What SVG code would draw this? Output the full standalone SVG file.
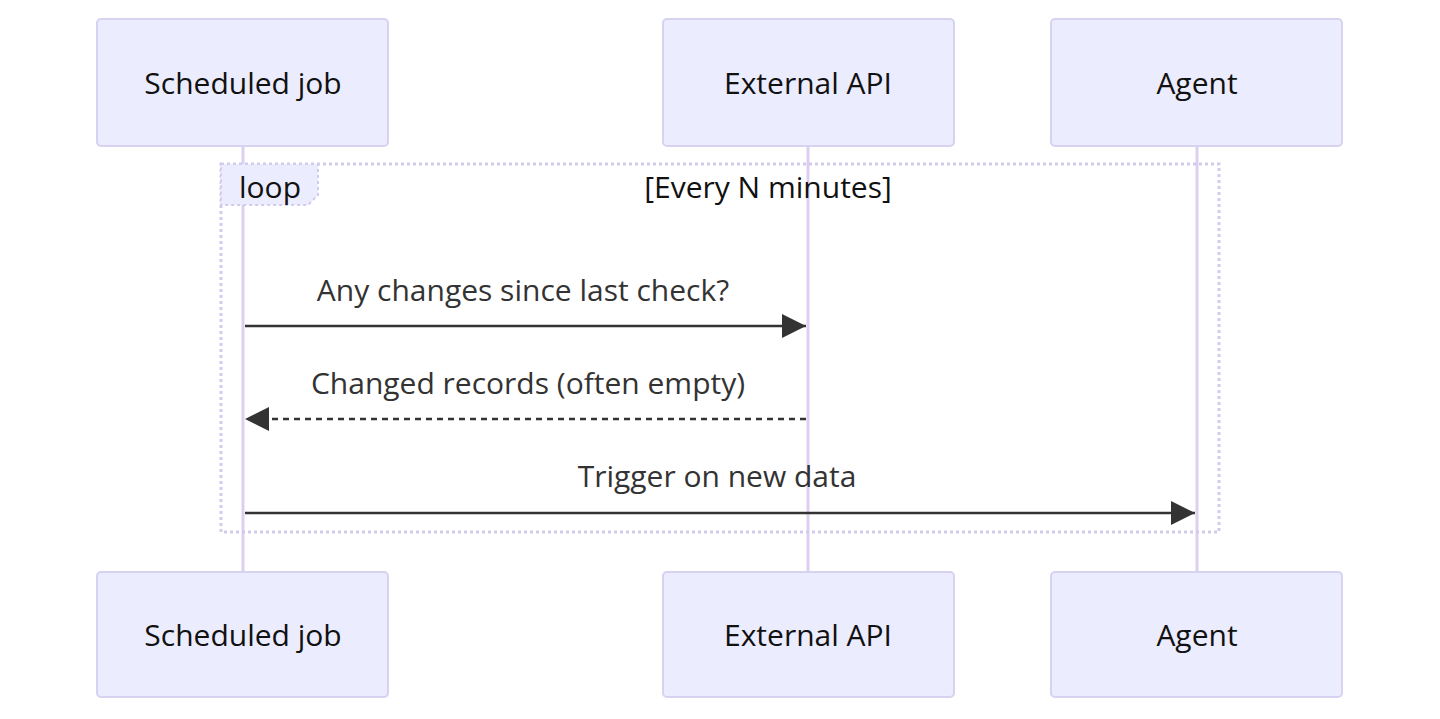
<svg xmlns="http://www.w3.org/2000/svg" width="1440" height="719" viewBox="0 0 1440 719">
<style>
.actor{fill:#ECECFF;stroke:#D6D2F0;stroke-width:2}
.atext{font-family:"Open Sans","Liberation Sans",sans-serif;font-size:30px;fill:#111;text-anchor:middle;dominant-baseline:central}
.life{stroke:#DCD0F0;stroke-width:3}
.msg{stroke:#333;stroke-width:2.5;fill:none}
.mtext{font-family:"Open Sans","Liberation Sans",sans-serif;font-size:30px;fill:#333;text-anchor:middle}
.loop{fill:none;stroke:#D2CCEC;stroke-width:3;stroke-dasharray:3 3}
</style>
<defs>
<marker id="ahb" viewBox="0 0 24 24" refX="24" refY="12" markerWidth="24" markerHeight="24" markerUnits="userSpaceOnUse" orient="auto">
<path d="M0,0 L24,12 L0,24 z" fill="#333"/>
</marker>
</defs>
<rect width="1440" height="719" fill="#fff"/>
<g id="lifelines">
<line class="life" x1="243" y1="146" x2="243" y2="572"/>
<line class="life" x1="808" y1="146" x2="808" y2="572"/>
<line class="life" x1="1197" y1="146" x2="1197" y2="572"/>
</g>
<g id="loop">
<rect class="loop" x="221" y="164" width="998" height="368"/>
<path d="M221,164 L318,164 L318,195 L308,205 L221,205 Z" fill="#ECECFF" stroke="#D2CCEC" stroke-width="2" stroke-dasharray="3 3"/>
<text class="mtext" x="270" y="198" style="fill:#111">loop</text>
<text class="mtext" x="768" y="198" style="fill:#111">[Every N minutes]</text>
</g>
<g id="actor-job-top"><rect class="actor" x="97" y="19" width="291" height="127" rx="4"/><text class="atext" x="243" y="82">Scheduled job</text></g>
<g id="actor-api-top"><rect class="actor" x="663" y="19" width="291" height="127" rx="4"/><text class="atext" x="808" y="82">External API</text></g>
<g id="actor-agent-top"><rect class="actor" x="1051" y="19" width="291" height="127" rx="4"/><text class="atext" x="1197" y="82">Agent</text></g>
<g id="actor-job-bottom"><rect class="actor" x="97" y="572" width="291" height="125" rx="4"/><text class="atext" x="243" y="634">Scheduled job</text></g>
<g id="actor-api-bottom"><rect class="actor" x="663" y="572" width="291" height="125" rx="4"/><text class="atext" x="808" y="634">External API</text></g>
<g id="actor-agent-bottom"><rect class="actor" x="1051" y="572" width="291" height="125" rx="4"/><text class="atext" x="1197" y="634">Agent</text></g>
<g id="connectors">
<line class="msg" x1="245" y1="326" x2="806" y2="326" marker-end="url(#ahb)"/>
<text class="mtext" x="523" y="301">Any changes since last check?</text>
<line class="msg" x1="806" y1="419" x2="245" y2="419" stroke-dasharray="6 5" marker-end="url(#ahb)"/>
<text class="mtext" x="528" y="394">Changed records (often empty)</text>
<line class="msg" x1="245" y1="513" x2="1195" y2="513" marker-end="url(#ahb)"/>
<text class="mtext" x="717" y="487">Trigger on new data</text>
</g>
</svg>
